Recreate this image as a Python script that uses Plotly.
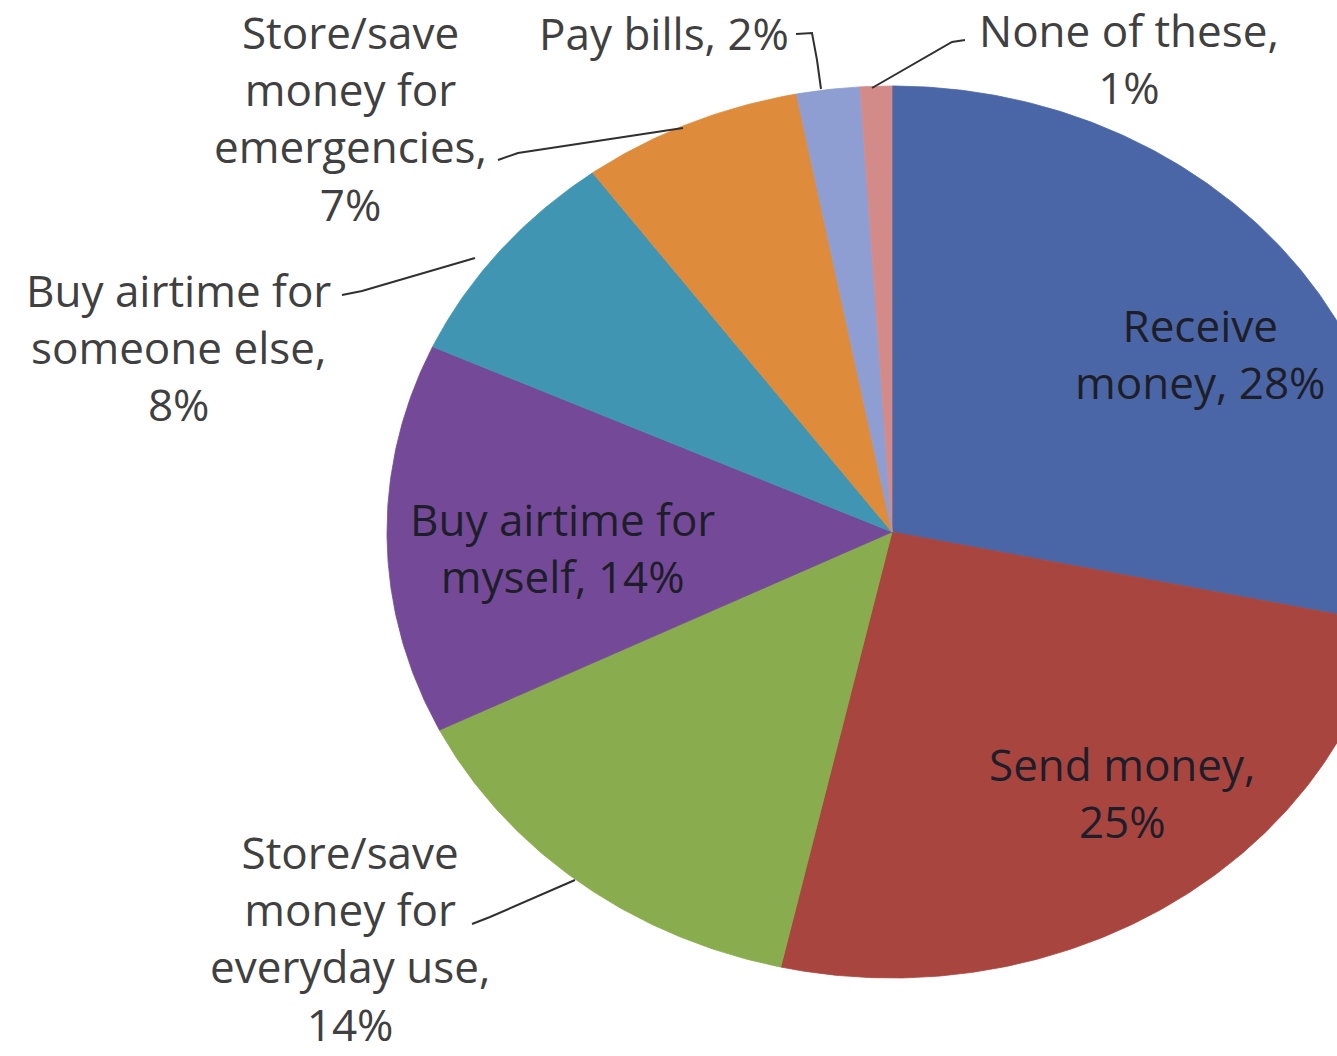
import numpy as np
import plotly.graph_objects as go

# Share of respondents by main use of mobile money (%)
categories = [
    "Receive money",
    "Send money",
    "Store/save money for everyday use",
    "Buy airtime for myself",
    "Buy airtime for someone else",
    "Store/save money for emergencies",
    "Pay bills",
    "None of these",
]
shares = [28, 25, 14, 14, 8, 7, 2, 1]

# Label text for each slice (line breaks as shown on the chart)
label_lines = [
    ["Receive", "money, 28%"],
    ["Send money,", "25%"],
    ["Store/save", "money for", "everyday use,", "14%"],
    ["Buy airtime for", "myself, 14%"],
    ["Buy airtime for", "someone else,", "8%"],
    ["Store/save", "money for", "emergencies,", "7%"],
    ["Pay bills, 2%"],
    ["None of these,", "1%"],
]

colors = ["#4A66A6", "#A9453F", "#89AC4E", "#744A98",
          "#4096B2", "#DE8B3C", "#8E9ED2", "#D38B89"]

W, H = 1337, 1056
CX, CY = 892, 532      # pie centre in page pixels
RX, RY = 505, 446      # pie radii in page pixels (slightly wide ellipse)


def to_data(px, py):
    """Page pixel -> unit-pie data coordinates."""
    return (px - CX) / RX, (CY - py) / RY


fig = go.Figure()

# Slices: clockwise from 12 o'clock, first category first
total = float(sum(shares))
bounds = np.concatenate([[0.0], np.cumsum(shares)]) / total * 2 * np.pi
for name, col, t0, t1 in zip(categories, colors, bounds[:-1], bounds[1:]):
    ts = np.linspace(t0, t1, max(8, int((t1 - t0) * 120)))
    xs = np.concatenate([[0.0], np.sin(ts), [0.0]])
    ys = np.concatenate([[0.0], np.cos(ts), [0.0]])
    fig.add_trace(go.Scatter(
        x=xs, y=ys, mode="lines", fill="toself", fillcolor=col,
        line=dict(color=col, width=0.8), name=name, hoverinfo="name",
    ))

# Label placement (page pixels: centre x, centre y) and whether inside slice
label_pos = [
    (1200, 353, True),
    (1122, 792, True),
    (350, 938, False),
    (562, 547, True),
    (178, 347, False),
    (350, 118, False),
    (664, 33, False),
    (1129, 58, False),
]

for lines, (px, py, inside) in zip(label_lines, label_pos):
    x, y = to_data(px, py)
    fig.add_annotation(
        x=x, y=y, xref="x", yref="y", showarrow=False,
        text="<br>".join(lines), align="center",
        xanchor="center", yanchor="middle",
        font=dict(family="Open Sans, sans-serif", size=44,
                  color="#1E1E2A" if inside else "#404040"),
    )

# Leader lines from outside labels to their slices (page pixels)
leaders = [
    [(472, 924), (490, 917), (575, 880)],             # everyday use
    [(342, 295), (362, 291), (475, 258)],             # someone else
    [(498, 160), (518, 153), (683, 128)],             # emergencies
    [(796, 34), (812, 33), (817, 60), (821, 89)],     # pay bills
    [(965, 40), (952, 42), (872, 88)],                # none of these
]
for pts in leaders:
    d = [to_data(px, py) for px, py in pts]
    fig.add_trace(go.Scatter(
        x=[p[0] for p in d], y=[p[1] for p in d], mode="lines",
        line=dict(color="#303030", width=2), hoverinfo="skip",
    ))

x0, _ = to_data(0, 0)
x1, _ = to_data(W, 0)
_, y_top = to_data(0, 0)
_, y_bot = to_data(0, H)

fig.update_layout(
    width=W, height=H,
    margin=dict(l=0, r=0, t=0, b=0),
    paper_bgcolor="white", plot_bgcolor="white",
    showlegend=False,
    xaxis=dict(range=[x0, x1], visible=False, fixedrange=True),
    yaxis=dict(range=[y_bot, y_top], visible=False, fixedrange=True),
)

fig.write_html("out.html")
